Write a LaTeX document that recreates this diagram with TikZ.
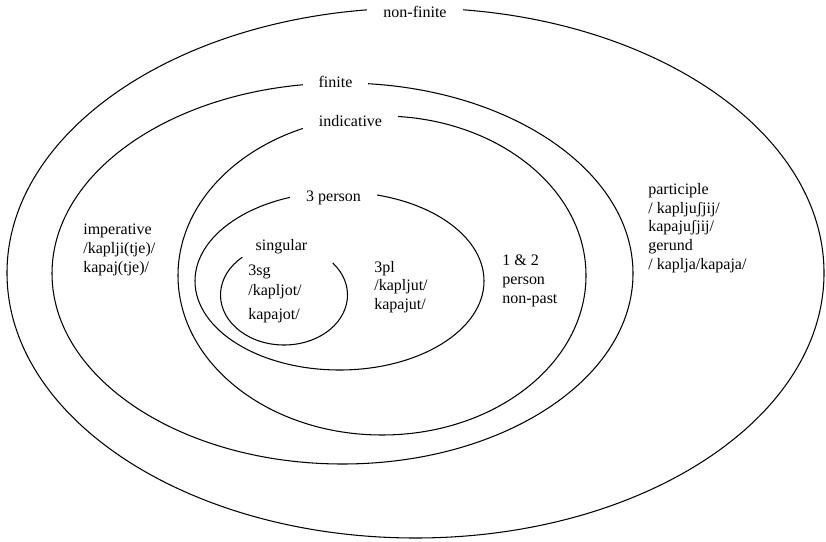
\documentclass[tikz,border=0pt]{standalone}
\usepackage{fontspec}
\setmainfont{Liberation Serif}
\usetikzlibrary{shapes.geometric}

\begin{document}
\begin{tikzpicture}[
    every node/.style={font=\fontsize{9.1}{10.6}\selectfont},
    set/.style={ellipse, draw, line width=0.6pt, inner sep=0pt},
    setname/.style={fill=white, inner xsep=0.32cm, inner ysep=0.04cm},
    forms/.style={align=left, anchor=west, inner sep=0pt}
]
\useasboundingbox (0,0) rectangle (16.52,10.82);
% nested sets
\node[set, minimum width=16.34cm, minimum height=10.6cm] (nonfinite) at (8.31, 5.36) {};
\node[set, minimum width=11.62cm, minimum height=7.62cm] (finite) at (6.85, 5.35) {};
\node[set, minimum width=8.16cm, minimum height=6.38cm] (indicative) at (7.64, 5.31) {};
\node[set, minimum width=5.78cm, minimum height=3.56cm] (third) at (6.79, 5.2) {};
\coordinate (sg) at (5.68, 4.92);
\draw[line width=0.6pt] ([shift={(131:1.27cm and 1.0cm)}]sg) arc[start angle=131, end angle=400, x radius=1.27cm, y radius=1.0cm];
% set names
\node[setname] (nonfinitename) at (8.30, 10.58) {non-finite};
\node[setname] (finitename) at (6.71, 9.18) {finite};
\node[setname] (indicativename) at (7.01, 8.40) {indicative};
\node[setname] (thirdname) at (6.67, 6.86) {3 person};
\node (sgname) at (5.63, 5.88) {singular};
% forms
\node[forms] (imp) at (1.66, 5.82) {imperative\\/kaplji(tje)/\\kapaj(tje)/};
\node[forms] (thirdsg) at (4.96, 4.94) {3sg\\[1pt]/kapljot/\\[3pt]kapajot/};
\node[forms] (thirdpl) at (7.48, 5.08) {3pl\\/kapljut/\\kapajut/};
\node[forms] (firstsecond) at (10.04, 5.2) {1 \& 2\\person\\non-past};
\node[forms] (nonfin) at (12.96, 6.26) {participle\\/ kapljuʃjij/\\kapajuʃjij/\\gerund\\/ kaplja/kapaja/};
\end{tikzpicture}
\end{document}
